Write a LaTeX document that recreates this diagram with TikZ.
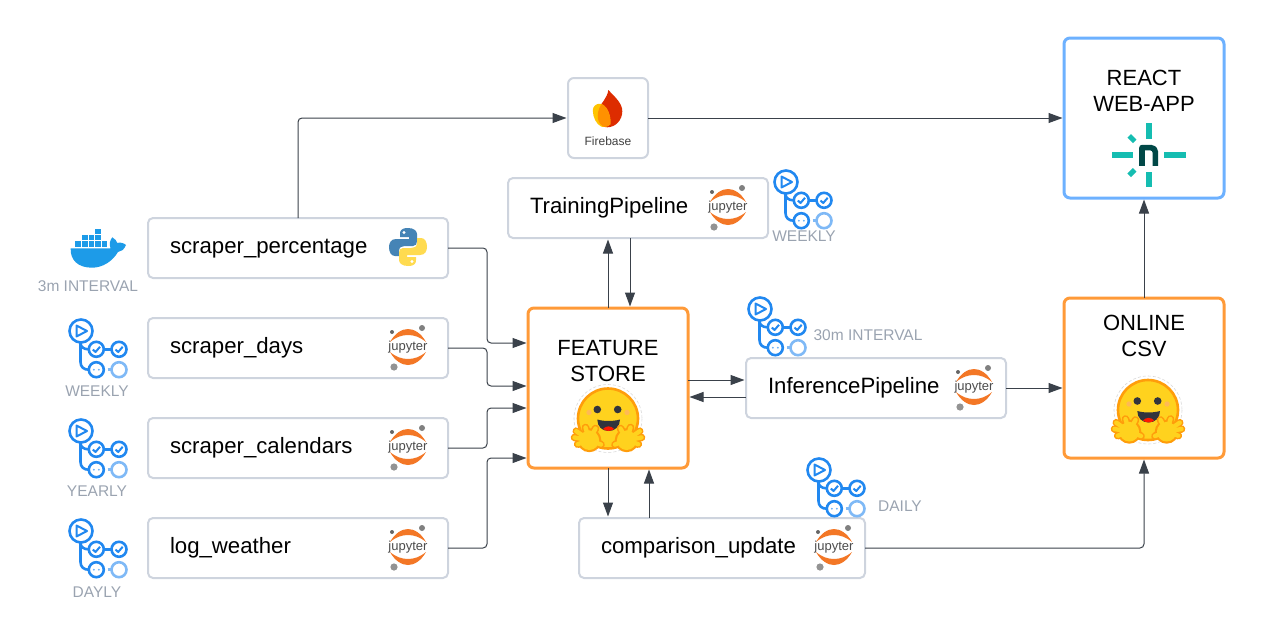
\documentclass[tikz,border=0pt]{standalone}
\usepackage{xcolor}
\usepackage{fontspec}
\setmainfont{Liberation Sans}
\usepackage{tikz}
\usetikzlibrary{arrows.meta,positioning,calc}
\definecolor{boxgray}{HTML}{CED4DE}
\definecolor{labelgray}{HTML}{9AA3B0}
\definecolor{linedark}{HTML}{3A414A}
\definecolor{storeorange}{HTML}{FF9A38}
\definecolor{appblue}{HTML}{6DB1FF}
\definecolor{actionblue}{HTML}{2188F0}
\definecolor{ringblue}{HTML}{7FB9F6}
\definecolor{dockerblue}{HTML}{1D9BE8}
\definecolor{jupyorange}{HTML}{F37726}
\definecolor{pyblue}{HTML}{4584B6}
\definecolor{pyyellow}{HTML}{FFDB50}
\definecolor{hugyellow}{HTML}{FFD21E}
\definecolor{hugorange}{HTML}{FF9D0B}
\definecolor{hugdark}{HTML}{32343D}
\definecolor{netteal}{HTML}{15BDB1}
\definecolor{netdark}{HTML}{014847}
\definecolor{fbred}{HTML}{DD2C00}
\definecolor{fbyellow}{HTML}{FFC400}
\definecolor{fborange}{HTML}{FF9100}
\tikzset{
  taskbox/.style={rectangle, draw=boxgray, fill=white, line width=2pt, rounded corners=5pt, outer sep=0pt, inner xsep=22pt, inner ysep=0pt, minimum height=60pt, align=left, text height=16pt, text depth=6pt, font=\fontsize{22.2}{26}\selectfont},
  bigbox/.style={rectangle, draw=#1, fill=white, line width=3pt, rounded corners=6pt, outer sep=0pt, minimum width=160pt, minimum height=160pt, align=center, font=\fontsize{22}{26.5}\selectfont},
  smalllabel/.style={text=labelgray, inner sep=0pt, font=\fontsize{15.5}{18}\selectfont},
  flow/.style={-{Stealth[inset=0pt,length=14pt,width=10pt]}, line width=1pt, color=linedark, rounded corners=4pt, shorten >=1.5pt},
  pics/jupyter/.style={code={
    \fill[jupyorange] (-18,-5) .. controls (-13,-14) and (-6,-18) .. (0,-18) .. controls (6,-18) and (13,-14) .. (18,-5) .. controls (12,-10) and (6,-12) .. (0,-12) .. controls (-6,-12) and (-12,-10) .. cycle;
    \fill[jupyorange] (-18,5) .. controls (-13,14) and (-6,18) .. (0,18) .. controls (6,18) and (13,14) .. (18,5) .. controls (12,10) and (6,12) .. (0,12) .. controls (-6,12) and (-12,10) .. cycle;
    \fill[gray] (14,-19) circle (3);
    \fill[gray!80!black] (-16,-15) circle (2);
    \fill[gray!85] (-14,20) circle (3.6);
    \node[inner sep=0pt, text=black!70, font=\fontsize{13}{14}\selectfont] (-lbl) {jupyter};
  }},
  pics/python/.style={code={
    \foreach \partcolor/\turn in {pyblue/0, pyyellow/180}{
      \begin{scope}[rotate=\turn]
        \fill[\partcolor] (0,-19) .. controls (-7,-19) and (-8,-16) .. (-8,-13) -- (-8,-10) -- (1,-10) -- (1,-8) -- (-12,-8) .. controls (-17,-8) and (-19,-4) .. (-19,0) .. controls (-19,5) and (-17,9) .. (-13,9) -- (-9,9) -- (-9,4) .. controls (-9,0) and (-6,-1) .. (-3,-1) -- (5,-1) .. controls (8,-1) and (9,-3) .. (9,-6) -- (9,-13) .. controls (9,-16) and (6,-19) .. (0,-19) -- cycle;
        \fill[white] (-4,-14.5) circle (1.7);
      \end{scope}
    }
  }},
  pics/docker/.style={code={
    \fill[dockerblue] (-27.3,-1.7) -- (12.5,-1.7) .. controls (11,-6) and (12,-10) .. (14.3,-12.7) .. controls (17,-11) and (19,-9) .. (19.3,-7) .. controls (22,-8) and (26,-7) .. (28,-5) .. controls (26,0) and (23,1.5) .. (20,2) .. controls (14,12) and (4,17.7) .. (-6,17.7) .. controls (-20,17.7) and (-28,10) .. cycle;
    \foreach \col in {0,...,4}{\fill[dockerblue] (-22.7+6.6*\col,-8.6) rectangle ++(5.6,5.2);}
    \foreach \col in {1,2,3}{\fill[dockerblue] (-22.7+6.6*\col,-15.2) rectangle ++(5.6,5.2);}
    \fill[dockerblue] (-2.9,-21.5) rectangle ++(5.6,5.2);
  }},
  pics/actions/.style={code={
    \begin{scope}[line width=2.6pt, actionblue]
      \draw (0,0) circle (11.5);
      \draw[line width=2pt, line join=round] (-4.5,-5.5) -- (-4.5,5.5) -- (6,0) -- cycle;
      \draw (-0.5,11.5) -- (-0.5,31) .. controls (-0.5,36) and (3,38.7) .. (7.5,38.7);
      \draw (-0.5,12) .. controls (-0.5,16) and (3,18.3) .. (7.5,18.3);
      \draw (15.3,18.3) circle (7.5);
      \draw (38,18.3) circle (7.5);
      \draw (22.8,18.3) -- (30.5,18.3);
      \draw (15.3,38.7) circle (7.5);
      \fill[actionblue!70] (12.8,38.7) circle (1);
      \fill[actionblue!70] (17.8,38.7) circle (1);
      \draw[line width=2pt, line join=round] (11.8,18.5) -- (14.5,21) -- (19,15.8);
      \draw[line width=2pt, line join=round] (34.5,18.5) -- (37.2,21) -- (41.7,15.8);
      \draw[ringblue] (26.5,38.7) -- (30.5,38.7);
      \draw[ringblue] (38,38.7) circle (7.5);
    \end{scope}
  }},
  pics/hugface/.style={code={
    \draw[gray!30, line width=0.6pt, densely dashed] (0,0) circle (34);
    \fill[hugyellow, draw=hugorange, line width=2.6pt] (0,0) circle (30);
    \fill[hugorange!70] (-19,-6) circle (2.7);
    \fill[hugorange!70] (19,-6) circle (2.7);
    \fill[hugdark] (-10.7,-9) circle (3.8);
    \fill[hugdark] (9.7,-9) circle (3.8);
    \fill[hugdark] (-10.7,1) .. controls (-4,3) and (5,3) .. (12,1) .. controls (12,8) and (7,12.5) .. (0.6,12.5) .. controls (-6,12.5) and (-10.7,8) .. cycle;
    \fill[red!80!orange] (-5,10.5) .. controls (-2,7) and (3,7) .. (6.2,10.5) .. controls (3,13) and (-2,13) .. cycle;
    \foreach \side in {1,-1}{
      \begin{scope}[xscale=\side]
        \foreach \tipx/\tipy in {-31.7/12.7,-33.5/19,-30.3/25.7,-22.5/9,-12.5/10,-7/26}{
          \draw[hugorange, line width=7.6pt, line cap=round] (-18.7,21.7) -- (\tipx,\tipy);
        }
        \fill[hugorange] (-18.7,21.7) circle (12);
        \foreach \tipx/\tipy in {-31.7/12.7,-33.5/19,-30.3/25.7,-22.5/9,-12.5/10,-7/26}{
          \draw[hugyellow, line width=4.4pt, line cap=round] (-18.7,21.7) -- (\tipx,\tipy);
        }
        \fill[hugyellow] (-18.7,21.7) circle (9.8);
      \end{scope}
    }
  }},
  pics/netlify/.style={code={
    \fill[netteal] (-3,-32) rectangle (3,-16.5);
    \fill[netteal] (-3,17) rectangle (3,32);
    \fill[netteal] (-37,-3) rectangle (-16,3);
    \fill[netteal] (15.7,-3) rectangle (37,3);
    \draw[netteal, line width=5pt] (-19.5,-19.5) -- (-14,-14);
    \draw[netteal, line width=5pt] (-19.5,20) -- (-14,14.5);
    \draw[netdark, line width=5.6pt, line join=round] (-6.7,10.5) -- (-6.7,-7.7) -- (2,-7.7) .. controls (5,-7.7) and (6.7,-6) .. (6.7,-3) -- (6.7,10.5);
  }},
  pics/firebase/.style={code={
    \fill[fbred] (1,-18.3) .. controls (8,-11) and (15,-5) .. (15,3) .. controls (15,12) and (8,19) .. (0,19) .. controls (-8,19) and (-12,10) .. (-8,0) .. controls (-6,-6) and (0,-10) .. cycle;
    \fill[fbyellow] (-14.5,2) .. controls (-14.5,-2) and (-11,-5) .. (-7,-4.5) .. controls (-1,-3.5) and (4,6) .. (3,16) .. controls (0,19) and (-4,19) .. (-6,18.3) .. controls (-11,16) and (-14.5,9) .. cycle;
    \begin{scope}
      \clip (1,-18.3) .. controls (8,-11) and (15,-5) .. (15,3) .. controls (15,12) and (8,19) .. (0,19) .. controls (-8,19) and (-12,10) .. (-8,0) .. controls (-6,-6) and (0,-10) .. cycle;
      \fill[fborange] (-14.5,2) .. controls (-14.5,-2) and (-11,-5) .. (-7,-4.5) .. controls (-1,-3.5) and (4,6) .. (3,16) .. controls (0,19) and (-4,19) .. (-6,18.3) .. controls (-11,16) and (-14.5,9) .. cycle;
    \end{scope}
  }},
}
\begin{document}
\begin{tikzpicture}[x=1pt, y=-1pt]
\useasboundingbox (0,0) rectangle (1264,624);
\node[taskbox, text width=256pt] (sp) at (298,248) {scraper\_percentage};
\node[taskbox, text width=256pt, below of=sp, node distance=100pt] (sd) {scraper\_days};
\node[taskbox, text width=256pt, below of=sd, node distance=100pt] (sc) {scraper\_calendars};
\node[taskbox, text width=256pt, below of=sc, node distance=100pt] (lw) {log\_weather};
\node[taskbox, text width=216pt] (tp) at (638,208) {TrainingPipeline};
\node[taskbox, text width=216pt] (ip) at (876,388) {InferencePipeline};
\node[taskbox, text width=242pt] (cu) at (722,548) {comparison\_update};
\node[rectangle, draw=boxgray, fill=white, line width=2pt, rounded corners=6pt, outer sep=0pt, minimum width=80pt, minimum height=80pt, inner sep=0pt, text=black!75, text height=55pt, text depth=1pt, font=\fontsize{12}{14}\selectfont] (fb) at (608,118) {Firebase};
\node[bigbox=appblue, text depth=54pt] (rw) at (1144,118) {REACT\\WEB-APP};
\node[bigbox=storeorange, text depth=84pt] (oc) at (1144,378) {ONLINE\\CSV};
\node[bigbox=storeorange, text depth=54pt] (fs) at (608,388) {FEATURE\\STORE};

\pic at ($(sp.east)+(-40,-1)$) {python};
\pic (jsd) at ($(sd.east)+(-40,-1)$) {jupyter};
\pic (jsc) at ($(sc.east)+(-40,-1)$) {jupyter};
\pic (jlw) at ($(lw.east)+(-40,-1)$) {jupyter};
\pic (jtp) at ($(tp.east)+(-40,-1)$) {jupyter};
\pic (jip) at ($(ip.east)+(-32,-1)$) {jupyter};
\pic (jcu) at ($(cu.east)+(-31,-1)$) {jupyter};
\pic at (607.3,108.3) {firebase};
\pic at (1148.7,155.3) {netlify};
\pic at (608,418.5) {hugface};
\pic at (1148,410) {hugface};
\pic at (98,250) {docker};
\pic at (81,331) {actions};
\pic at (81,431) {actions};
\pic at (81,531) {actions};
\pic at (786,182) {actions};
\pic at (760,309) {actions};
\pic at (819,470) {actions};

\node[smalllabel] (lsp) at (88,286) {3m INTERVAL};
\node[smalllabel] (lsd) at (97,391) {WEEKLY};
\node[smalllabel] (lsc) at (97,491) {YEARLY};
\node[smalllabel] (llw) at (97,592) {DAYLY};
\node[smalllabel] (ltp) at (804,236) {WEEKLY};
\node[smalllabel] (lip) at (868,335) {30m INTERVAL};
\node[smalllabel] (lcu) at (900,506) {DAILY};

\draw[flow] (sp.north) |- (fb.west);
\draw[flow] (fb.east) -- (rw.west);
\draw[flow] (sp.east) -- ++(39,0) |- ([yshift=45pt]fs.west);
\draw[flow] (sd.east) -- ++(39,0) |- ([yshift=2pt]fs.west);
\draw[flow] (sc.east) -- ++(39,0) |- ([yshift=-20pt]fs.west);
\draw[flow] (lw.east) -- ++(39,0) |- ([yshift=-70pt]fs.west);
\draw[flow] (fs.north) -- (fs.north |- tp.south);
\draw[flow] ([xshift=-8pt]tp.south) -- ([xshift=-8pt]tp.south |- fs.north);
\draw[flow] ([yshift=8pt]fs.east) -- ([yshift=8pt]fs.east -| ip.west);
\draw[flow] ([yshift=-9pt]ip.west) -- ([yshift=-9pt]ip.west -| fs.east);
\draw[flow] (ip.east) -- (ip.east -| oc.west);
\draw[flow] (oc.north) -- (rw.south);
\draw[flow] (fs.south) -- (fs.south |- cu.north);
\draw[flow] ([xshift=41pt]fs.south |- cu.north) -- ([xshift=41pt]fs.south);
\draw[flow] (cu.east) -| (oc.south);
\end{tikzpicture}
\end{document}
